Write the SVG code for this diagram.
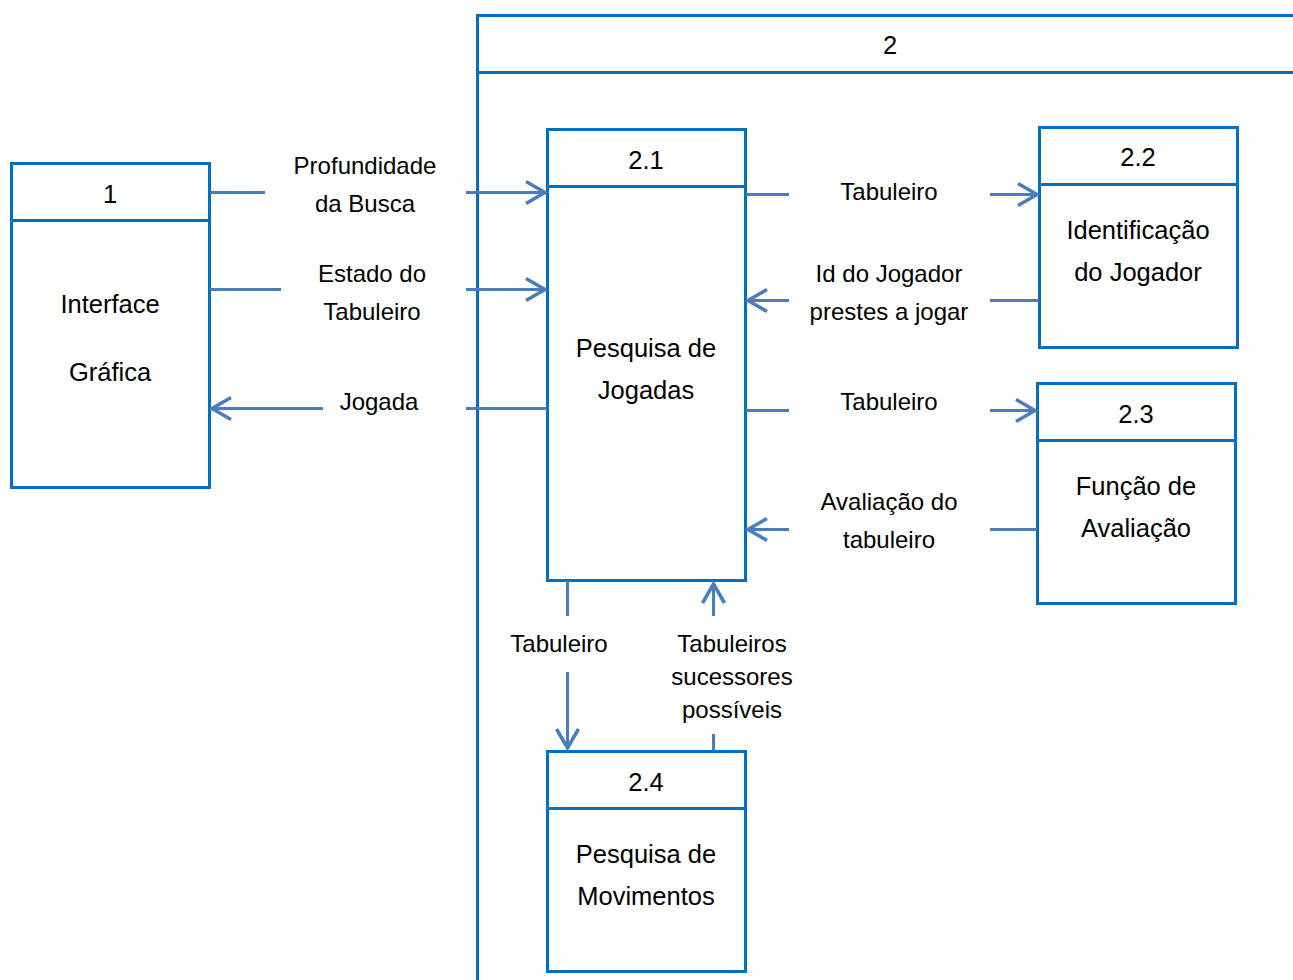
<svg xmlns="http://www.w3.org/2000/svg" width="1293" height="980" viewBox="0 0 1293 980">
  <style>
    .box { fill: none; stroke: #0070C0; stroke-width: 3; }
    .flow { fill: none; stroke: #4A7EBB; stroke-width: 3; }
    .t { font-family: "Liberation Sans", Arial, sans-serif; fill: #000; text-anchor: middle; }
    .lbl { font-size: 24px; }
    .nm { font-size: 25.5px; }
  </style>
  <defs>
    <marker id="arrow" markerUnits="userSpaceOnUse" viewBox="-24 -14 28 28" markerWidth="28" markerHeight="28" refX="0" refY="0" orient="auto">
      <path d="M -19 -11 L 0 0 L -19 11" fill="none" stroke="#4A7EBB" stroke-width="3.5"/>
    </marker>
  </defs>
  <rect width="1293" height="980" fill="#fff"/>

  <!-- process 2 (container) -->
  <g id="node-2">
    <rect class="box" x="477.5" y="15.5" width="900" height="1000"/>
    <line class="box" x1="477.5" y1="72.5" x2="1293" y2="72.5"/>
    <text class="t nm" x="890" y="54">2</text>
  </g>

  <!-- process 1 -->
  <g id="node-1">
    <rect class="box" x="11.5" y="163.5" width="198" height="324"/>
    <line class="box" x1="11.5" y1="220.5" x2="209.5" y2="220.5"/>
    <text class="t nm" x="110" y="203">1</text>
    <text class="t nm" x="110" y="313">Interface</text>
    <text class="t nm" x="110" y="381">Gráfica</text>
  </g>

  <!-- process 2.1 -->
  <g id="node-2-1">
    <rect class="box" x="547.5" y="129.5" width="198" height="451"/>
    <line class="box" x1="547.5" y1="186.5" x2="745.5" y2="186.5"/>
    <text class="t nm" x="646" y="169">2.1</text>
    <text class="t nm" x="646" y="357">Pesquisa de</text>
    <text class="t nm" x="646" y="399">Jogadas</text>
  </g>

  <!-- process 2.2 -->
  <g id="node-2-2">
    <rect class="box" x="1039.5" y="127.5" width="198" height="220"/>
    <line class="box" x1="1039.5" y1="184.5" x2="1237.5" y2="184.5"/>
    <text class="t nm" x="1138" y="166">2.2</text>
    <text class="t nm" x="1138" y="239">Identificação</text>
    <text class="t nm" x="1138" y="281">do Jogador</text>
  </g>

  <!-- process 2.3 -->
  <g id="node-2-3">
    <rect class="box" x="1037.5" y="383.5" width="198" height="220"/>
    <line class="box" x1="1037.5" y1="440.5" x2="1235.5" y2="440.5"/>
    <text class="t nm" x="1136" y="423">2.3</text>
    <text class="t nm" x="1136" y="495">Função de</text>
    <text class="t nm" x="1136" y="537">Avaliação</text>
  </g>

  <!-- process 2.4 -->
  <g id="node-2-4">
    <rect class="box" x="547.5" y="751.5" width="198" height="220"/>
    <line class="box" x1="547.5" y1="808.5" x2="745.5" y2="808.5"/>
    <text class="t nm" x="646" y="791">2.4</text>
    <text class="t nm" x="646" y="863">Pesquisa de</text>
    <text class="t nm" x="646" y="905">Movimentos</text>
  </g>

  <!-- data flows -->
  <g id="connectors">
    <line class="flow" x1="210" y1="192.5" x2="265" y2="192.5"/>
    <line class="flow" x1="466" y1="192.5" x2="545" y2="192.5" marker-end="url(#arrow)"/>
    <line class="flow" x1="210" y1="289.5" x2="281" y2="289.5"/>
    <line class="flow" x1="466" y1="289.5" x2="545" y2="289.5" marker-end="url(#arrow)"/>
    <line class="flow" x1="323" y1="408.5" x2="212" y2="408.5" marker-end="url(#arrow)"/>
    <line class="flow" x1="466" y1="408.5" x2="547" y2="408.5"/>

    <line class="flow" x1="746" y1="194.5" x2="789" y2="194.5"/>
    <line class="flow" x1="990" y1="194.5" x2="1037" y2="194.5" marker-end="url(#arrow)"/>
    <line class="flow" x1="789" y1="300.5" x2="748" y2="300.5" marker-end="url(#arrow)"/>
    <line class="flow" x1="990" y1="300.5" x2="1039" y2="300.5"/>
    <line class="flow" x1="746" y1="410.5" x2="789" y2="410.5"/>
    <line class="flow" x1="990" y1="410.5" x2="1035" y2="410.5" marker-end="url(#arrow)"/>
    <line class="flow" x1="789" y1="529.5" x2="748" y2="529.5" marker-end="url(#arrow)"/>
    <line class="flow" x1="990" y1="529.5" x2="1037" y2="529.5"/>

    <line class="flow" x1="567.5" y1="581" x2="567.5" y2="616"/>
    <line class="flow" x1="567.5" y1="672" x2="567.5" y2="748" marker-end="url(#arrow)"/>
    <line class="flow" x1="713.5" y1="616" x2="713.5" y2="584" marker-end="url(#arrow)"/>
    <line class="flow" x1="713.5" y1="734" x2="713.5" y2="750"/>
  </g>

  <!-- flow labels -->
  <g id="labels">
    <text class="t lbl" x="365" y="174">Profundidade</text>
    <text class="t lbl" x="365" y="212">da Busca</text>
    <text class="t lbl" x="372" y="282">Estado do</text>
    <text class="t lbl" x="372" y="320">Tabuleiro</text>
    <text class="t lbl" x="379" y="410">Jogada</text>

    <text class="t lbl" x="889" y="200">Tabuleiro</text>
    <text class="t lbl" x="889" y="282">Id do Jogador</text>
    <text class="t lbl" x="889" y="320">prestes a jogar</text>
    <text class="t lbl" x="889" y="410">Tabuleiro</text>
    <text class="t lbl" x="889" y="510">Avaliação do</text>
    <text class="t lbl" x="889" y="548">tabuleiro</text>

    <text class="t lbl" x="559" y="652">Tabuleiro</text>
    <text class="t lbl" x="732" y="652">Tabuleiros</text>
    <text class="t lbl" x="732" y="685">sucessores</text>
    <text class="t lbl" x="732" y="718">possíveis</text>
  </g>
</svg>
